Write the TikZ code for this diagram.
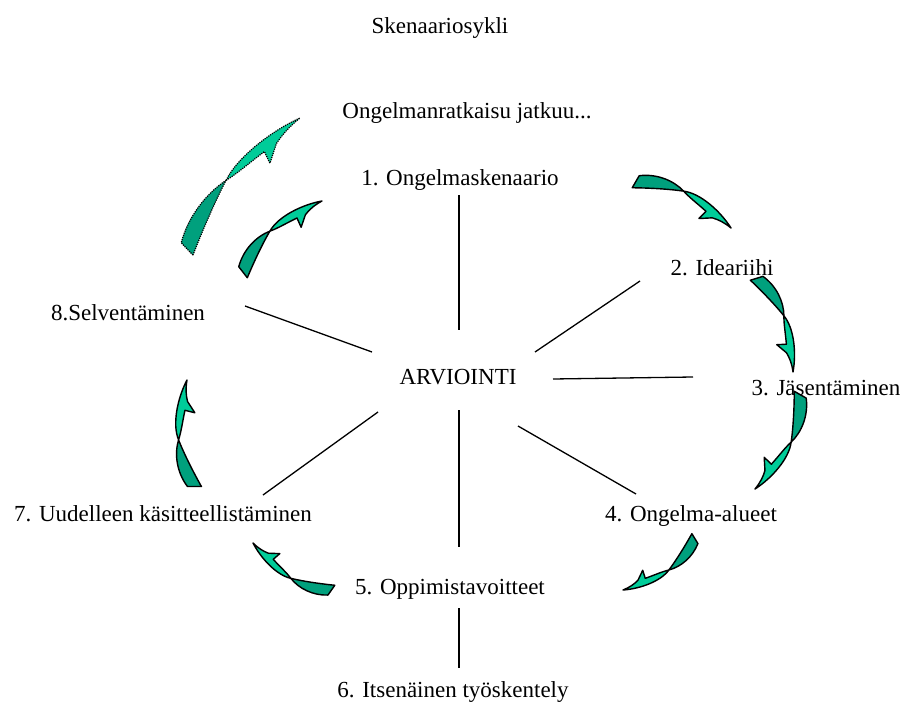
\documentclass[tikz,border=0pt]{standalone}
\usepackage{fontspec}
\setmainfont{Liberation Serif}
\definecolor{tealL}{HTML}{00CC99}
\definecolor{tealD}{HTML}{00A07D}
\tikzset{
  lbl/.style={anchor=base, inner sep=0pt, font=\fontsize{23}{27}\selectfont},
  conn/.style={line width=1.3pt, draw=black},
  rib/.style={draw=black, line width=1.4pt, line join=round},
  ribdot/.style={draw=black, line width=1.2pt, densely dotted, line join=round}
}
% twisted ribbon arrow: tail (#1,#2), tip (#3,#4), outline style #5, side factor #6
\newcommand\twistarrow[6]{%
  \begin{scope}[shift={(#1,#2)},
      x={({(#3-#1)*1pt},{-(#4-#2)*1pt})},
      y={({#6*(#4-#2)*1pt},{#6*(#3-#1)*1pt})}]
    \path[#5, fill=tealD] (0,-0.06) -- (0.01,0.07)
      .. controls (0.15,0.16) and (0.32,0.17) .. (0.45,0.12)
      .. controls (0.32,0.08) and (0.15,0.01) .. (0,-0.06) -- cycle;
    \path[#5, fill=tealL] (0.45,0.12)
      .. controls (0.6,0.17) and (0.84,0.1) .. (1,0)
      .. controls (0.92,0.02) and (0.86,0.02) .. (0.8,0.01)
      -- (0.69,-0.05) -- (0.72,0.04)
      .. controls (0.62,0.07) and (0.52,0.09) .. (0.45,0.12) -- cycle;
  \end{scope}}
\begin{document}
\begin{tikzpicture}[x=1pt,y=-1pt]
\useasboundingbox (0,0) rectangle (911,709);

% texts
\node[lbl] (title) at (440,34) {Skenaariosykli};
\node[lbl] (cont) at (467,118) {Ongelmanratkaisu jatkuu...};
\node[lbl] (s1) at (460,185) {1. Ongelmaskenaario};
\node[lbl] (s2) at (722,275) {2. Ideariihi};
\node[lbl] (s3) at (826,395) {3. Jäsentäminen};
\node[lbl] (s4) at (691,521) {4. Ongelma-alueet};
\node[lbl] (s5) at (450,594) {5. Oppimistavoitteet};
\node[lbl] (s6) at (453,697) {6. Itsenäinen työskentely};
\node[lbl] (s7) at (163,521) {7. Uudelleen käsitteellistäminen};
\node[lbl] (s8) at (128,320) {8.Selventäminen};
\node[lbl] (arv) at (458,384) {ARVIOINTI};

% connector end points
\coordinate (a1) at (459,195); \coordinate (b1) at (459,330);
\coordinate (a2) at (640,281); \coordinate (b2) at (535,352);
\coordinate (a3) at (553,379); \coordinate (b3) at (693,377);
\coordinate (a4) at (518,426); \coordinate (b4) at (636,494);
\coordinate (a5) at (459,410); \coordinate (b5) at (459,547);
\coordinate (a6) at (459,608); \coordinate (b6) at (459,668);
\coordinate (a7) at (378,412); \coordinate (b7) at (263,495);
\coordinate (a8) at (245,306); \coordinate (b8) at (372,352);

\draw[conn] (a1) -- (b1);
\draw[conn] (a2) -- (b2);
\draw[conn] (a3) -- (b3);
\draw[conn] (a4) -- (b4);
\draw[conn] (a5) -- (b5);
\draw[conn] (a6) -- (b6);
\draw[conn] (a7) -- (b7);
\draw[conn] (a8) -- (b8);

% cycle arrows
\twistarrow{635}{182}{731}{228}{rib}{1}
\twistarrow{756}{278}{793}{372}{rib}{1}
\twistarrow{800}{394}{755}{489}{rib}{1}
\twistarrow{695}{538}{623}{590}{rib}{1}
\twistarrow{332}{590}{253}{543}{rib}{1}
\twistarrow{195}{487}{187}{380}{rib}{1}
\twistarrow{243}{273}{322}{201}{rib}{1}
\twistarrow{187}{250}{300}{118}{ribdot}{0.75}
\end{tikzpicture}
\end{document}
